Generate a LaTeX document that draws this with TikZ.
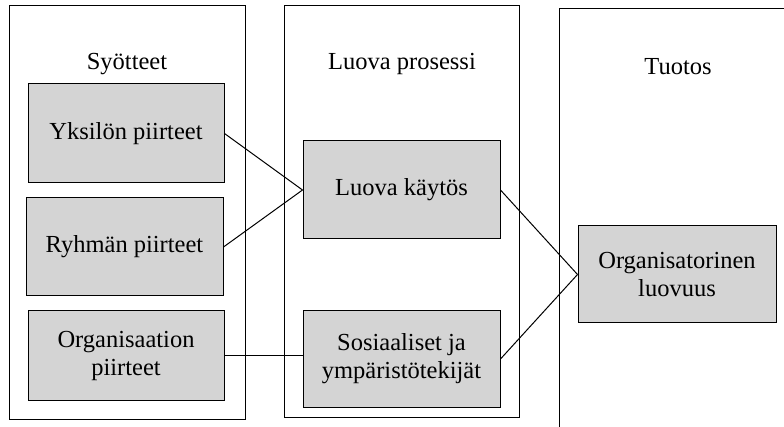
\documentclass[tikz,border=0pt]{standalone}
\usepackage{fontspec}
\setmainfont{Liberation Serif}
\definecolor{boxgray}{RGB}{212,212,212}
\begin{document}
\begin{tikzpicture}[x=1pt,y=-1pt,
  panel/.style={draw=black,line width=1pt},
  item/.style={draw=black,line width=1pt,fill=boxgray,inner sep=0pt,align=center,
    font=\fontsize{24.5}{28}\selectfont},
  title/.style={inner sep=0pt,font=\fontsize{24.5}{28}\selectfont},
  conn/.style={draw=black,line width=1pt}]
\useasboundingbox (0,0) rectangle (784,427);
\draw[panel] (9,6) rectangle (245,419);
\draw[panel] (284,6) rectangle (519,417);
\draw[panel] (784,9) -- (559,9) -- (559,428);
\node[title] (t1) at (127,64) {Syötteet};
\node[title] (t2) at (402,64) {Luova prosessi};
\node[title] (t3) at (678,67) {Tuotos};
\node[item,minimum width=196pt,minimum height=99pt] (b1) at (126,133.5) {Yksilön piirteet};
\node[item,minimum width=197pt,minimum height=98pt] (b2) at (124.5,247) {Ryhmän piirteet};
\node[item,minimum width=196pt,minimum height=89pt] (b3) at (126,355.5) {Organisaation\\piirteet};
\node[item,minimum width=197pt,minimum height=98pt] (lk) at (401.5,190) {Luova käytös};
\node[item,minimum width=197pt,minimum height=96pt] (so) at (401.5,359) {Sosiaaliset ja\\ympäristötekijät};
\node[item,minimum width=198pt,minimum height=97pt] (or) at (677,274.5) {Organisatorinen\\luovuus};
\draw[conn] (b1.east) -- (lk.west);
\draw[conn] (b2.east) -- (lk.west);
\draw[conn] (b3.east) -- (b3.east -| so.west);
\draw[conn] (lk.east) -- (or.west);
\draw[conn] (so.east) -- (or.west);
\end{tikzpicture}
\end{document}
